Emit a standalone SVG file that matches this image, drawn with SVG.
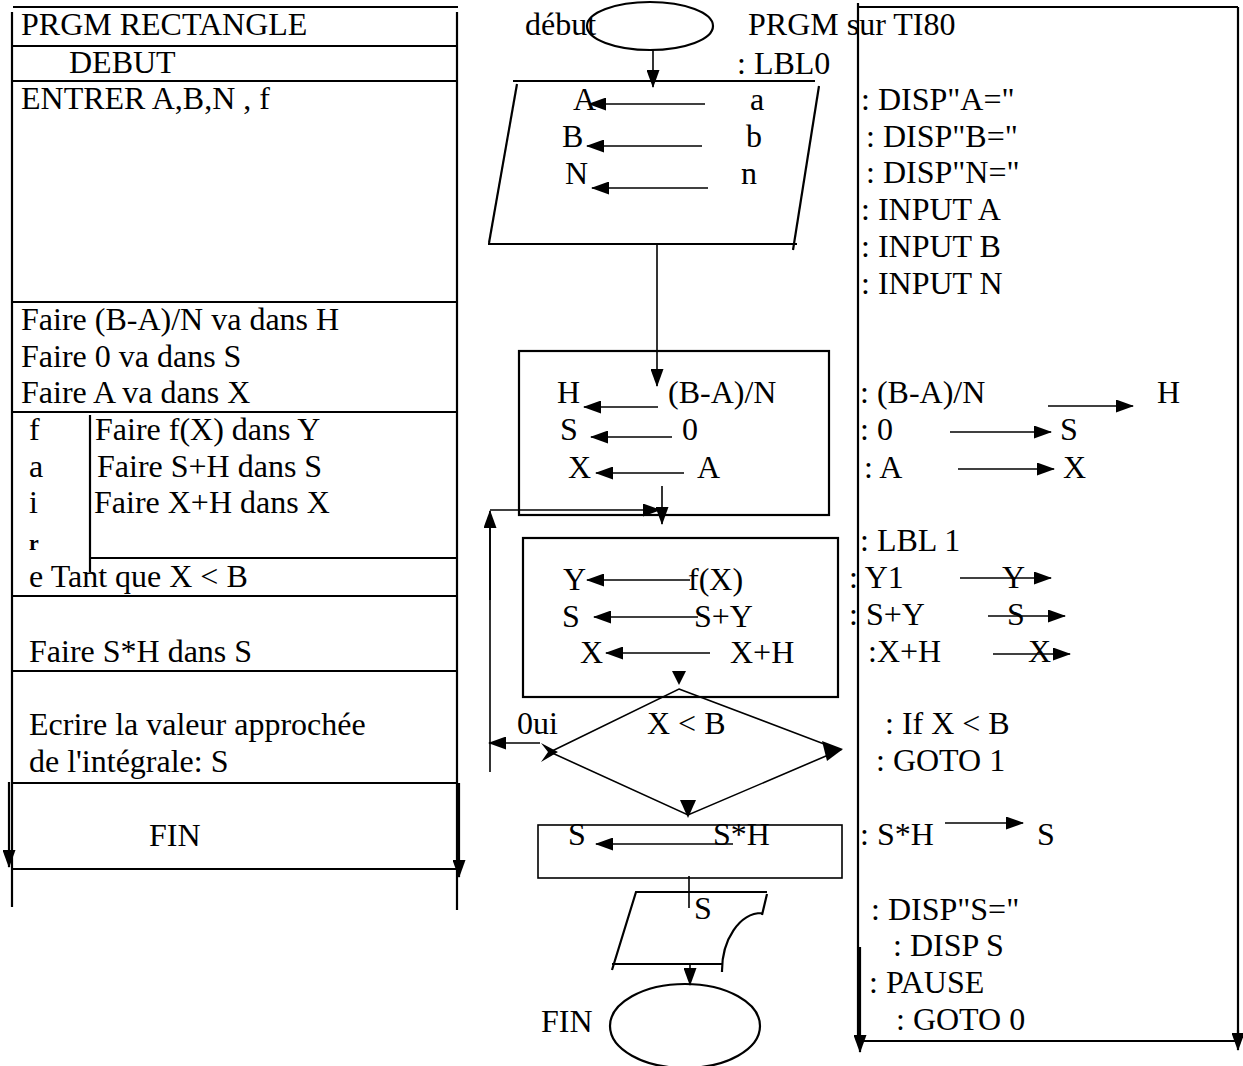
<svg xmlns="http://www.w3.org/2000/svg" width="1243" height="1066" viewBox="0 0 1243 1066">
<defs>
<style>
text{font-family:"Liberation Serif","Times New Roman",serif;font-size:32px;fill:#000}
.b{stroke:#000;stroke-width:2.2;fill:none}
.l{stroke:#000;stroke-width:1.6;fill:none}
.a{stroke:#000;stroke-width:1.6;fill:none;marker-end:url(#ah)}
.aw{stroke:#000;stroke-width:2.2;fill:none;marker-end:url(#ah)}
</style>
<marker id="ah" viewBox="0 0 18 13" refX="17" refY="6.5" markerUnits="userSpaceOnUse" markerWidth="18" markerHeight="13" orient="auto"><path d="M0,0 L18,6.5 L0,13 z" fill="#000"/></marker>
</defs>
<rect width="1243" height="1066" fill="#fff"/>

<!-- LEFT COLUMN: algorithm in boxes -->
<g id="left-frame">
<line class="b" x1="13" y1="7" x2="458" y2="7"/>
<line class="b" x1="12" y1="12" x2="12" y2="907"/>
<line class="b" x1="457" y1="12" x2="457" y2="910"/>
</g>
<g id="l-title">
<text x="21" y="35">PRGM RECTANGLE</text>
<line class="b" x1="12" y1="46" x2="457" y2="46"/>
</g>
<g id="l-debut">
<text x="69" y="73">DEBUT</text>
<line class="b" x1="12" y1="81" x2="457" y2="81"/>
</g>
<g id="l-entrer">
<text x="21" y="109">ENTRER A,B,N , f</text>
<line class="b" x1="12" y1="302" x2="457" y2="302"/>
</g>
<g id="l-init">
<text x="21" y="330">Faire (B-A)/N va dans H</text>
<text x="21" y="367">Faire 0 va dans S</text>
<text x="21" y="403">Faire A va dans X</text>
<line class="b" x1="12" y1="412" x2="457" y2="412"/>
</g>
<g id="l-loop">
<text x="29" y="440">f</text>
<text x="29" y="477">a</text>
<text x="29" y="513">i</text>
<text x="29" y="550" style="font-size:22px;font-weight:bold">r</text>
<text x="29" y="587">e Tant que  X &lt; B</text>
<text x="95" y="440">Faire f(X) dans Y</text>
<text x="97" y="477">Faire S+H dans S</text>
<text x="94" y="513">Faire X+H dans X</text>
<line class="b" x1="90" y1="415" x2="90" y2="572"/>
<line class="b" x1="90" y1="558" x2="457" y2="558"/>
<line class="b" x1="12" y1="596" x2="457" y2="596"/>
</g>
<g id="l-mult">
<text x="29" y="662">Faire S*H dans S</text>
<line class="b" x1="12" y1="671" x2="457" y2="671"/>
</g>
<g id="l-ecrire">
<text x="29" y="735">Ecrire la valeur approchée</text>
<text x="29" y="772">de l'intégrale: S</text>
<line class="b" x1="12" y1="783" x2="457" y2="783"/>
</g>
<g id="l-fin">
<text x="149" y="846">FIN</text>
<line class="b" x1="12" y1="869" x2="457" y2="869"/>
</g>

<!-- CENTRE COLUMN: flowchart -->
<g id="start">
<ellipse class="b" cx="650" cy="26" rx="63" ry="24"/>
<text x="525" y="35">début</text>
</g>
<g id="input">
<line class="b" x1="513" y1="81" x2="815" y2="81"/>
<line class="b" x1="517" y1="84" x2="489" y2="243"/>
<line class="b" x1="488" y1="244" x2="797" y2="244"/>
<line class="b" x1="819" y1="86" x2="793" y2="250"/>
<text x="573" y="110">A</text><text x="750" y="110">a</text>
<text x="562" y="147">B</text><text x="746" y="147">b</text>
<text x="565" y="184">N</text><text x="741" y="184">n</text>
<line class="a" x1="705" y1="104" x2="589" y2="104"/>
<line class="a" x1="702" y1="146" x2="587" y2="146"/>
<line class="a" x1="708" y1="188" x2="592" y2="188"/>
</g>
<g id="init">
<rect class="b" x="519" y="351" width="310" height="164"/>
<text x="557" y="403">H</text><text x="668" y="403">(B-A)/N</text>
<text x="560" y="440">S</text><text x="682" y="440">0</text>
<text x="568" y="478">X</text><text x="697" y="478">A</text>
<line class="a" x1="658" y1="407" x2="584" y2="407"/>
<line class="a" x1="672" y1="437" x2="591" y2="437"/>
<line class="a" x1="684" y1="473" x2="596" y2="473"/>
</g>
<g id="loop">
<rect class="b" x="523" y="538" width="315" height="159"/>
<text x="563" y="590">Y</text><text x="688" y="590">f(X)</text>
<text x="562" y="627">S</text><text x="694" y="627">S+Y</text>
<text x="580" y="663">X</text><text x="730" y="663">X+H</text>
<line class="a" x1="690" y1="580" x2="587" y2="580"/>
<line class="a" x1="698" y1="617" x2="594" y2="617"/>
<line class="a" x1="710" y1="653" x2="606" y2="653"/>
<path d="M672,671 L686,671 L679,685 z" fill="#000"/>
</g>
<g id="test">
<path class="l" d="M679,689 L840,750 L688,815 L550,752 z"/>
<text x="647" y="734">X &lt; B</text>
<text x="517" y="734">0ui</text>
<path d="M822,741 L843,749 L827,761 z" fill="#000"/>
<path d="M541,743 L558,752 L541,762 L548,752 z" fill="#000"/>
<path d="M680,800 L696,800 L688,818 z" fill="#000"/>
</g>
<g id="mult">
<rect class="l" x="538" y="825" width="304" height="53"/>
<text x="568" y="845">S</text><text x="713" y="845">S*H</text>
<line class="a" x1="733" y1="844" x2="596" y2="844"/>
</g>
<g id="output">
<path class="b" d="M767,892 L636,892 L612,970 M612,964 L722,964 M767,894 L762,915 M762,913 A40,58 0 0,0 722,972"/>
<text x="694" y="919">S</text>
</g>
<g id="end">
<ellipse class="b" cx="685" cy="1026" rx="75" ry="42"/>
<text x="541" y="1032">FIN</text>
</g>

<g id="connectors">
<line class="a" x1="653" y1="50" x2="653" y2="87"/>
<line class="a" x1="657" y1="245" x2="657" y2="386"/>
<line class="a" x1="662" y1="486" x2="662" y2="524"/>
<line class="l" x1="490" y1="772" x2="490" y2="520"/>
<line class="a" x1="490" y1="600" x2="490" y2="511"/>
<line class="a" x1="490" y1="510" x2="660" y2="510"/>
<line class="a" x1="540" y1="743" x2="489" y2="743"/>
<line class="l" x1="689" y1="876" x2="689" y2="908"/>
<line class="a" x1="690" y1="964" x2="690" y2="985"/>
<line class="aw" x1="9" y1="782" x2="9" y2="867"/>
<line class="aw" x1="459" y1="783" x2="459" y2="877"/>
</g>

<!-- RIGHT COLUMN: TI80 program -->
<g id="ti80">
<line class="b" x1="858" y1="7" x2="1238" y2="7"/>
<line class="b" x1="858" y1="3" x2="858" y2="1040"/>
<line class="b" x1="1238" y1="7" x2="1238" y2="1040"/>
<line class="b" x1="862" y1="1041" x2="1238" y2="1041"/>
<line class="aw" x1="860" y1="947" x2="860" y2="1052"/>
<line class="aw" x1="1238" y1="1030" x2="1238" y2="1050"/>
<text x="748" y="35">PRGM sur TI80</text>
<text x="737" y="74">: LBL0</text>
<text x="861" y="110">: DISP"A="</text>
<text x="866" y="147">: DISP"B="</text>
<text x="866" y="183">: DISP"N="</text>
<text x="861" y="220">: INPUT A</text>
<text x="861" y="257">: INPUT B</text>
<text x="861" y="294">: INPUT N</text>
<text x="860" y="403">: (B-A)/N</text>
<line class="a" x1="1048" y1="406" x2="1133" y2="406"/>
<text x="1157" y="403">H</text>
<text x="860" y="440">: 0</text>
<line class="a" x1="950" y1="432" x2="1051" y2="432"/>
<text x="1060" y="440">S</text>
<text x="864" y="478">: A</text>
<line class="a" x1="958" y1="469" x2="1054" y2="469"/>
<text x="1063" y="478">X</text>
<text x="860" y="551">: LBL 1</text>
<text x="849" y="588">: Y1</text>
<text x="1002" y="588">Y</text>
<line class="a" x1="960" y1="578" x2="1051" y2="578"/>
<text x="849" y="625">: S+Y</text>
<text x="1007" y="625">S</text>
<line class="a" x1="988" y1="616" x2="1065" y2="616"/>
<text x="868" y="662">:X+H</text>
<text x="1028" y="662">X</text>
<line class="a" x1="993" y1="654" x2="1070" y2="654"/>
<text x="885" y="734">: If X &lt; B</text>
<text x="876" y="771">:  GOTO 1</text>
<text x="860" y="845">:  S*H</text>
<line class="a" x1="945" y1="823" x2="1023" y2="823"/>
<text x="1037" y="845">S</text>
<text x="871" y="920">: DISP"S="</text>
<text x="893" y="956">: DISP S</text>
<text x="869" y="993">: PAUSE</text>
<text x="896" y="1030">: GOTO 0</text>
</g>
</svg>
